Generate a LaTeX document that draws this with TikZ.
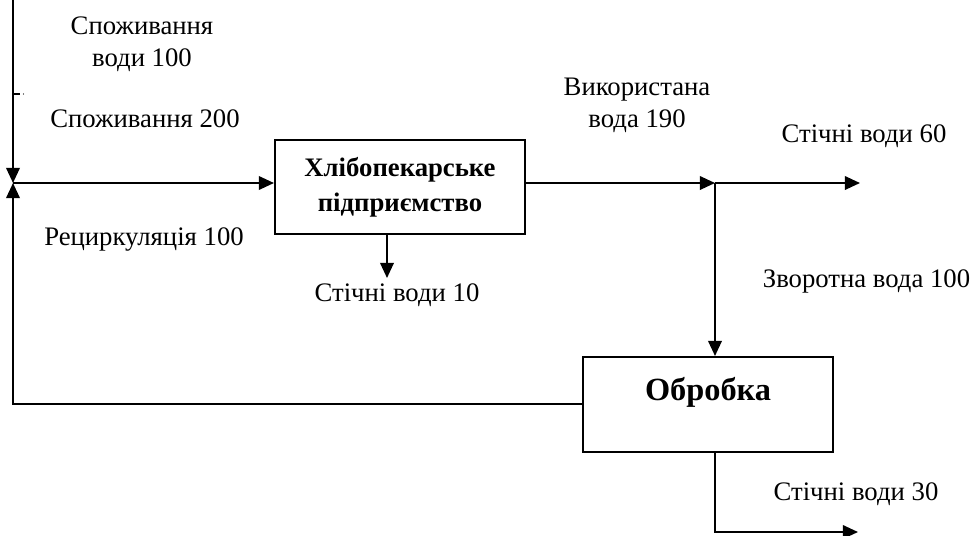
\documentclass[tikz,border=0pt]{standalone}
\usepackage{fontspec}
\setmainfont{Liberation Serif}
\usetikzlibrary{arrows.meta}

\tikzset{
  flowbox/.style={draw, line width=1.4pt, inner sep=0pt},
  flowtext/.style={font=\fontsize{19}{23}\selectfont, align=center, inner sep=0pt},
  boxtext/.style={font=\fontsize{19}{25}\selectfont\bfseries, align=center},
}

\begin{document}
\begin{tikzpicture}[x=0.025cm, y=-0.025cm, line width=1.4pt,
  >={Triangle[length=0.38cm, width=0.34cm]}]
\useasboundingbox (0,0) rectangle (974,535);

% ============================
% Boxes
% ============================
\node[flowbox, boxtext, minimum width=6.25cm, minimum height=2.35cm] (bakery) at (400,187) {Хлібопекарське\\підприємство};

\node[flowbox, minimum width=6.25cm, minimum height=2.375cm] (treat) at (708,404.5) {};
\node[font=\fontsize{23}{27}\selectfont\bfseries, inner sep=0pt, anchor=base] (treattxt) at (708,400) {Обробка};

% ============================
% Junctions and free ends
% ============================
\coordinate (top)     at (13,0);
\coordinate (mix)     at (13,183);
\coordinate (recycle) at (13,404);
\coordinate (split)   at (715,183);
\coordinate (out60)   at (860,183);
\coordinate (drop10)  at (387,278);
\coordinate (bend30)  at (715,532);
\coordinate (out30)   at (858,532);

% ============================
% Left side: inflow and recirculation
% ============================
\draw[->] (top) -- (mix);
\draw[->] (treat.west |- recycle) -- (recycle) -- (mix);
\draw[->] (mix) -- (mix -| bakery.west);

% small mark on the inflow line
\draw[line width=0.8pt] (13,94) -- (20,94);
\fill (23.5,94) circle (0.7);

% ============================
% Bakery outputs
% ============================
\draw[->] (drop10 |- bakery.south) -- (drop10);
\draw[->] (bakery.east |- split) -- (split);
\draw[->] (split) -- (out60);
\draw[->] (split) -- (split |- treat.north);

% ============================
% Treatment output
% ============================
\draw[->] (bend30 |- treat.south) -- (bend30) -- (out30);

% ============================
% Labels
% ============================
\node[flowtext] (use100) at (142,44) {Споживання\\води 100};
\node[flowtext, anchor=base] (use200) at (145,127) {Споживання 200};
\node[flowtext, anchor=base] (recirc) at (144,245) {Рециркуляція 100};
\node[flowtext, anchor=base] (waste10) at (397,301) {Стічні води 10};
\node[flowtext] (used190) at (637,105) {Використана\\вода 190};
\node[flowtext, anchor=base] (waste60) at (864,142) {Стічні води 60};
\node[flowtext, anchor=base] (return100) at (866.5,287) {Зворотна вода 100};
\node[flowtext, anchor=base] (waste30) at (856,500) {Стічні води 30};

\end{tikzpicture}
\end{document}
